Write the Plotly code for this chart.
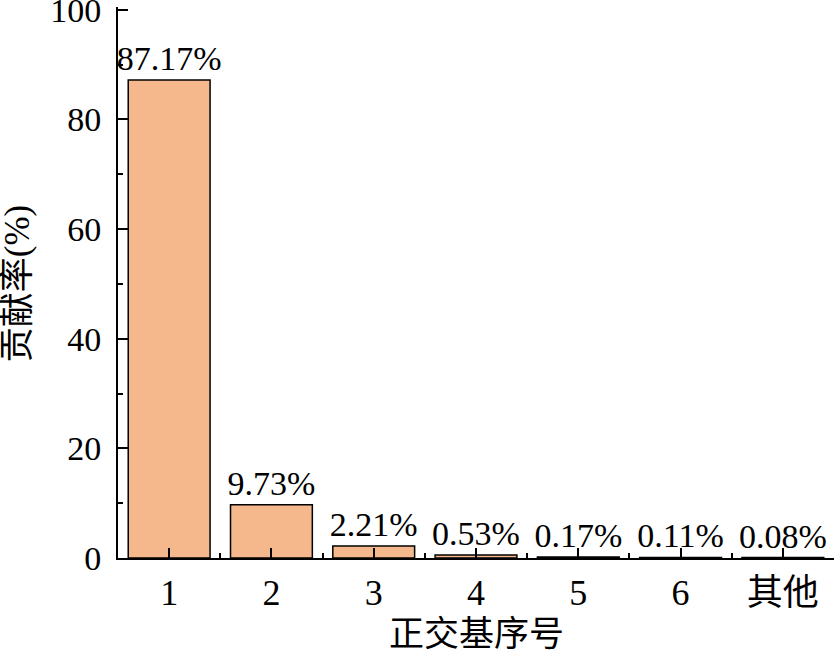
import plotly.graph_objects as go

# orthogonal basis index and contribution rate (%)
categories = ["1", "2", "3", "4", "5", "6", "其他"]
contrib = [87.17, 9.73, 2.21, 0.53, 0.17, 0.11, 0.08]
labels = ["87.17%", "9.73%", "2.21%", "0.53%", "0.17%", "0.11%", "0.08%"]
y_ticks = [0, 20, 40, 60, 80, 100]

xpos = list(range(len(categories)))
font_family = "Liberation Serif, Times New Roman, Noto Sans CJK SC, serif"

fig = go.Figure()
fig.add_trace(go.Bar(
    x=xpos,
    y=contrib,
    width=0.8,
    text=labels,
    textposition="outside",
    constraintext="none",
    cliponaxis=False,
    textfont=dict(size=34, color="black", family=font_family),
    marker=dict(color="#F5B78C", line=dict(color="black", width=1.5)),
))

# figure is 20px taller than the window and shifted up, so the "100" label
# fits inside the paper (plotly drops labels that poke out of it)
fig.update_layout(
    width=834, height=671,
    margin=dict(l=118, r=0, t=27, b=93, autoexpand=False),
    plot_bgcolor="white", paper_bgcolor="white",
    font=dict(family=font_family, size=34, color="black"),
    showlegend=False,
)

fig.update_xaxes(
    range=[-0.5, 6.5],
    tickmode="array", tickvals=xpos, ticktext=categories,
    tickfont=dict(size=36),
    ticks="inside", ticklen=10, tickwidth=1.5, tickcolor="black",
    showline=True, linecolor="black", linewidth=2,
    showgrid=False, zeroline=False, automargin=False,
    ticklabelstandoff=2,
    minor=dict(ticks="inside", ticklen=5, tickwidth=1.5, tickcolor="black",
               tick0=0.5, dtick=1, showgrid=False),
)

fig.update_yaxes(
    range=[0, 100.5],
    tickmode="array", tickvals=y_ticks,
    ticks="inside", ticklen=10, tickwidth=1.5, tickcolor="black",
    showline=True, linecolor="black", linewidth=2,
    showgrid=False, zeroline=False, automargin=False,
    ticklabelstandoff=8,
    minor=dict(ticks="inside", ticklen=5, tickwidth=1.5, tickcolor="black",
               tick0=10, dtick=20, showgrid=False),
)

# axis titles
fig.add_annotation(text="正交基序号", xref="paper", yref="paper",
                   x=0.5, y=-0.138, yanchor="middle", showarrow=False,
                   font=dict(size=35))
fig.add_annotation(text="贡献率(%)", xref="paper", yref="paper",
                   x=-0.141, y=0.497, xanchor="center", yanchor="middle",
                   textangle=-90, showarrow=False,
                   font=dict(size=35))

fig.write_html("out.html", config={"displayModeBar": False},
               post_script="document.body.style.margin='-20px 0 0 0';")
